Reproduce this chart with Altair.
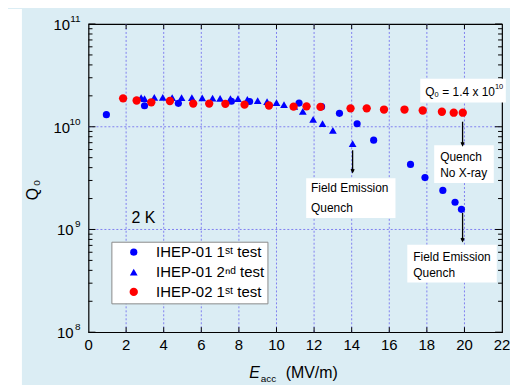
import altair as alt
import pandas as pd

# ---------------- data ----------------
# IHEP-01, 1st test (blue circles)
t1_eacc = [0.95, 2.98, 4.78, 7.60, 8.57, 11.20, 12.40, 13.35, 14.29, 15.17,
           17.13, 17.90, 18.85, 19.50, 19.84]
t1_q0 = [1.31e10, 1.60e10, 1.69e10, 1.77e10, 1.76e10, 1.70e10, 1.57e10, 1.35e10,
         1.07e10, 7.4e9, 4.3e9, 3.2e9, 2.4e9, 1.84e9, 1.57e9]
# IHEP-01, 2nd test (blue triangles)
t2_eacc = [2.80, 2.98, 3.50, 3.95, 4.45, 4.95, 5.50, 6.05, 6.60, 7.00, 7.55, 7.95,
           8.45, 9.00, 9.50, 10.00, 10.40, 10.95, 11.40, 11.95, 12.45, 13.00, 14.05]
t2_q0 = [1.92e10, 1.88e10, 1.93e10, 1.93e10, 1.92e10, 1.92e10, 1.92e10, 1.91e10,
         1.90e10, 1.89e10, 1.88e10, 1.88e10, 1.85e10, 1.80e10, 1.76e10, 1.72e10,
         1.64e10, 1.58e10, 1.41e10, 1.18e10, 1.07e10, 9.2e9, 6.84e9]
# IHEP-02, 1st test (red circles)
r_eacc = [1.84, 2.56, 3.34, 4.33, 5.57, 6.42, 7.28, 8.30, 9.60, 10.91, 11.60, 12.34,
          13.94, 14.80, 15.72, 16.81, 17.78, 18.80, 19.43, 19.91]
r_q0 = [1.89e10, 1.80e10, 1.73e10, 1.78e10, 1.68e10, 1.68e10, 1.67e10, 1.64e10,
        1.61e10, 1.57e10, 1.58e10, 1.56e10, 1.51e10, 1.51e10, 1.47e10, 1.47e10,
        1.44e10, 1.40e10, 1.37e10, 1.37e10]

series_names = ["IHEP-01 1ˢᵗ test", "IHEP-01 2ⁿᵈ test", "IHEP-02 1ˢᵗ test"]
series_colors = ["#0000ff", "#0000ff", "#ff0000"]
series_shapes = ["circle", "triangle-up", "circle"]
series_sizes = [52, 70, 52]

x_label_values = [0, 2, 4, 6, 8, 10, 12, 14, 16, 18, 20, 22]
x_label_text = ["0", "2", "4", "6", "8", "10", "12", "14", "16", "18", "20", "22"]
x_tick_values = [2, 4, 6, 8, 10, 12, 14, 16, 18, 20]
y_grid_values = [1e9, 1e10]
y_major_values = [1e8, 1e9, 1e10, 1e11]
y_exponents = ["8", "9", "10", "11"]
y_minor_values = [2e8, 3e8, 4e8, 5e8, 6e8, 7e8, 8e8, 9e8,
                  2e9, 3e9, 4e9, 5e9, 6e9, 7e9, 8e9, 9e9,
                  2e10, 3e10, 4e10, 5e10, 6e10, 7e10, 8e10, 9e10]

# annotation boxes (data coordinates)
box_x1 = [17.65, 18.39, 11.58, 16.96]
box_x2 = [22.20, 21.56, 16.33, 21.72]
box_y1 = [2.94e10, 6.59e9, 3.16e9, 7.1e8]
box_y2 = [1.72e10, 2.83e9, 1.29e9, 3.04e8]

note_text = ["Quench", "No X-ray", "Field Emission", "Quench", "Field Emission", "Quench"]
note_x = [18.71, 18.71, 11.84, 11.84, 17.28, 17.28]
note_y = [5.04e9, 3.53e9, 2.53e9, 1.62e9, 5.43e8, 3.80e8]

arrow_x = [19.90, 14.05, 19.90]
arrow_y0 = [1.12e10, 5.9e9, 1.45e9]
arrow_y1 = [6.6e9, 3.62e9, 7.7e8]

q_note_x = [17.92]
q_note_y = [2.2e10]

temp_x = [2.28]
temp_y = [1.3e9]

# ---------------- chart ----------------
FONT = "Liberation Sans"
W, H = 416, 310
GRID = "#8080f0"

x_scale = alt.Scale(domain=[0, 22], nice=False, zero=False)
y_scale = alt.Scale(type="log", domain=[1e8, 1e11], nice=False)


def X(field):
    return alt.X(field, scale=x_scale, axis=None)


def Y(field):
    return alt.Y(field, scale=y_scale, axis=None)


pts = pd.concat([
    pd.DataFrame({"E": t1_eacc, "Q": t1_q0, "series": series_names[0], "ord": 0}),
    pd.DataFrame({"E": t2_eacc, "Q": t2_q0, "series": series_names[1], "ord": 1}),
    pd.DataFrame({"E": r_eacc, "Q": r_q0, "series": series_names[2], "ord": 2}),
], ignore_index=True)

leg = alt.Legend(title=None, orient="none", legendX=23, legendY=219,
                 fillColor="white", strokeColor="#8a8a8a", padding=3,
                 symbolOffset=12, labelOffset=15, labelFontSize=15, labelFont=FONT,
                 labelColor="black", rowPadding=4, labelLimit=400,
                 symbolStrokeWidth=0)

points = alt.Chart(pts).mark_point(filled=True, opacity=1).encode(
    x=X("E:Q"), y=Y("Q:Q"),
    color=alt.Color("series:N", scale=alt.Scale(domain=series_names, range=series_colors), legend=leg),
    shape=alt.Shape("series:N", scale=alt.Scale(domain=series_names, range=series_shapes), legend=leg),
    size=alt.Size("series:N", scale=alt.Scale(domain=series_names, range=series_sizes), legend=leg),
    order=alt.Order("ord:Q"),
)

strip = alt.Chart(pd.DataFrame({"a": [0]})).mark_rect(color="white").encode(
    x=alt.value(-81), x2=alt.value(-67), y=alt.value(-15), y2=alt.value(370))

xgrid = alt.Chart(pd.DataFrame({"v": x_tick_values})).mark_rule(
    color=GRID, strokeWidth=1, strokeDash=[2, 2]).encode(
    x=X("v:Q"), y=alt.value(0), y2=alt.value(H))
ygrid = alt.Chart(pd.DataFrame({"v": y_grid_values})).mark_rule(
    color=GRID, strokeWidth=1, strokeDash=[2, 2]).encode(
    y=Y("v:Q"), x=alt.value(0), x2=alt.value(W))

boxes = alt.Chart(pd.DataFrame({"x1": box_x1, "x2": box_x2, "y1": box_y1, "y2": box_y2})).mark_rect(
    color="white").encode(x=X("x1:Q"), x2="x2:Q", y=Y("y1:Q"), y2="y2:Q")

ymaj = pd.DataFrame({"v": y_major_values, "e": y_exponents})
ymin = pd.DataFrame({"v": y_minor_values})
xt = pd.DataFrame({"v": x_tick_values})


def yrule(df, x0, x1):
    return alt.Chart(df).mark_rule(color="black", strokeWidth=1).encode(
        y=Y("v:Q"), x=alt.value(x0), x2=alt.value(x1))


def xrule(y0, y1):
    return alt.Chart(xt).mark_rule(color="black", strokeWidth=1).encode(
        x=X("v:Q"), y=alt.value(y0), y2=alt.value(y1))


ticks = [yrule(ymaj, 0, 7), yrule(ymaj, W - 7, W), yrule(ymin, 0, 4), yrule(ymin, W - 4, W),
         xrule(H, H - 5), xrule(0, 5)]

xlabels = alt.Chart(pd.DataFrame({"v": x_label_values, "t": x_label_text})).mark_text(
    align="center", baseline="middle", fontSize=15, font=FONT, color="black").encode(
    x=X("v:Q"), y=alt.value(H + 13), text="t:N")

ten2 = alt.Chart(ymaj).transform_filter("length(datum.e) == 2").mark_text(
    text="10", align="right", baseline="middle", fontSize=15, font=FONT, color="black", dy=1).encode(
    y=Y("v:Q"), x=alt.value(-18.5))
ten1 = alt.Chart(ymaj).transform_filter("length(datum.e) == 1").mark_text(
    text="10", align="right", baseline="middle", fontSize=15, font=FONT, color="black", dy=1).encode(
    y=Y("v:Q"), x=alt.value(-15))
exps = alt.Chart(ymaj).mark_text(align="right", baseline="middle", fontSize=10, font=FONT,
                                 color="black", dy=-5).encode(
    y=Y("v:Q"), x=alt.value(-8), text="e:N")

arrows_df = pd.DataFrame({"x": arrow_x, "y0": arrow_y0, "y1": arrow_y1})
arrow_lines = alt.Chart(arrows_df).mark_rule(color="black", strokeWidth=1.3).encode(
    x=X("x:Q"), y=Y("y0:Q"), y2="y1:Q")
arrow_heads = alt.Chart(arrows_df).mark_point(
    shape="M-1,-2L0,0L1,-2", filled=False, stroke="black", strokeWidth=1.3, size=9, opacity=1).encode(
    x=X("x:Q"), y=Y("y1:Q"))

notes = alt.Chart(pd.DataFrame({"t": note_text, "x": note_x, "y": note_y})).mark_text(
    align="left", baseline="middle", fontSize=12, font=FONT, color="black").encode(
    x=X("x:Q"), y=Y("y:Q"), text="t:N")

qdf = pd.DataFrame({"x": q_note_x, "y": q_note_y})


def qpiece(txt, dx, dy, size):
    return alt.Chart(qdf).mark_text(text=txt, align="left", baseline="middle", fontSize=size,
                                    font=FONT, color="black", dx=dx, dy=dy).encode(
        x=X("x:Q"), y=Y("y:Q"))


qnote = [qpiece("Q", 0, 0, 12), qpiece("0", 9.2, 3.5, 7.5), qpiece("= 1.4 x 10", 17, 0, 12),
         qpiece("10", 70, -4.5, 7.5)]

temp = alt.Chart(pd.DataFrame({"x": temp_x, "y": temp_y})).mark_text(
    text="2 K", align="left", baseline="middle", fontSize=16, font=FONT, color="black").encode(
    x=X("x:Q"), y=Y("y:Q"))

one = pd.DataFrame({"a": [0]})


def lbl(txt, x, y, size, angle=0, style="normal"):
    return alt.Chart(one).mark_text(text=txt, align="center", baseline="middle", fontSize=size,
                                    font=FONT, color="black", angle=angle, fontStyle=style).encode(
        x=alt.value(x), y=alt.value(y))


titles = [lbl("Q", -56, 171, 16, 270), lbl("0", -51.5, 160, 10, 270),
          lbl("E", 167, 351, 16, 0, "italic"), lbl("acc", 181, 357, 10),
          lbl("(MV/m)", 224.5, 351, 16)]

chart = alt.layer(strip, xgrid, ygrid, *ticks, boxes, points, arrow_lines, arrow_heads, notes,
                  *qnote, temp, xlabels, ten2, ten1, exps, *titles).properties(
    width=W, height=H,
    autosize=alt.AutoSizeParams(type="none"),
    padding={"left": 81, "top": 15, "right": 8, "bottom": 52},
    background="#dbedf4",
).configure_view(stroke="black", strokeWidth=1.2).configure_legend(labelFont=FONT)

chart.save("out.html", embed_options={"renderer": "svg", "actions": False})
